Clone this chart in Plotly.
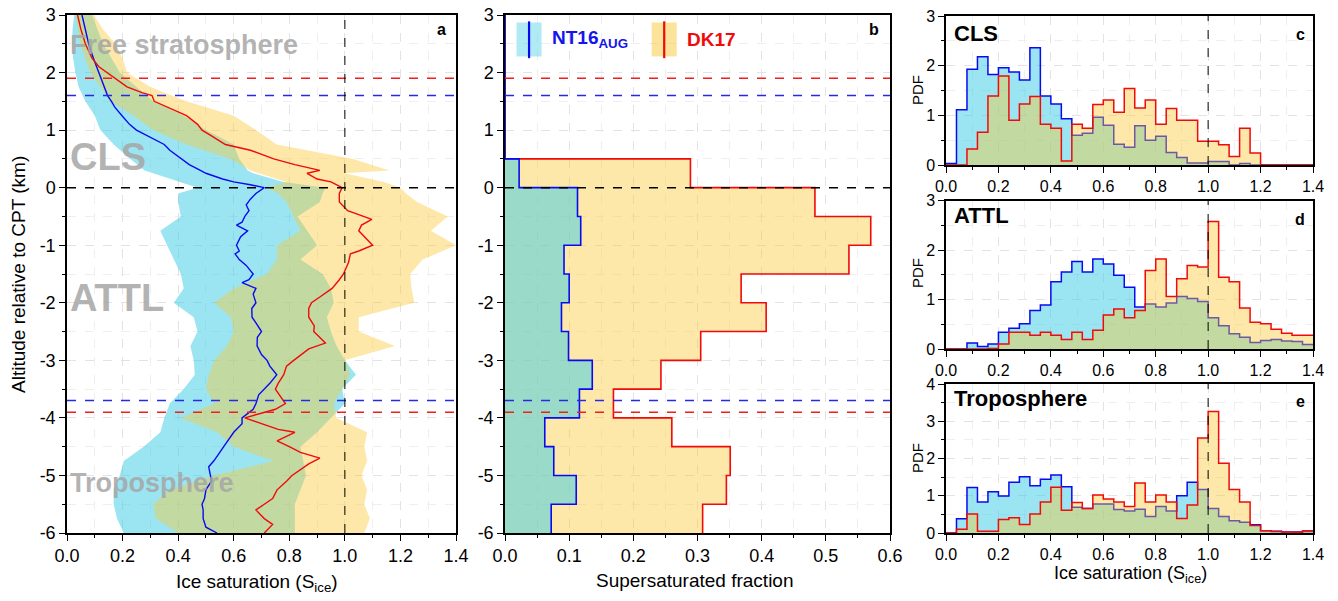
import numpy as np
import plotly.graph_objects as go

FONT = "Liberation Sans, Arial, sans-serif"

# ---------------- Panel a : mean profiles (altitude relative to CPT, km) ----------------
Z_NT16_MEAN = [3.0, 2.75, 2.5, 2.25, 2.0, 1.8, 1.6, 1.5, 1.4, 1.25, 1.1, 1.0, 0.9, 0.8, 0.75, 0.65, 0.5, 0.4,
               0.3, 0.25, 0.15, 0.1, 0.05, 0.0, -0.1, -0.2, -0.3, -0.4, -0.5, -0.6, -0.65, -0.75, -0.85, -1.0,
               -1.1, -1.15, -1.25, -1.35, -1.5, -1.6, -1.65, -1.75, -1.85, -2.0, -2.1, -2.25, -2.35, -2.5,
               -2.6, -2.75, -2.9, -3.0, -3.1, -3.25, -3.4, -3.5, -3.6, -3.75, -3.85, -4.0, -4.1, -4.25, -4.4,
               -4.5, -4.6, -4.75, -4.85, -5.0, -5.1, -5.25, -5.4, -5.5, -5.6, -5.75, -5.9, -6.0]
S_NT16_MEAN = [0.054, 0.065, 0.078, 0.095, 0.114, 0.13, 0.146, 0.16, 0.172, 0.198, 0.225, 0.25, 0.29, 0.335,
               0.35, 0.37, 0.41, 0.44, 0.48, 0.50, 0.56, 0.60, 0.66, 0.71, 0.68, 0.66, 0.645, 0.655, 0.64, 0.63,
               0.61, 0.65, 0.625, 0.61, 0.62, 0.605, 0.62, 0.645, 0.67, 0.655, 0.63, 0.68, 0.67, 0.68, 0.665,
               0.666, 0.68, 0.70, 0.685, 0.684, 0.70, 0.72, 0.73, 0.755, 0.73, 0.71, 0.69, 0.68, 0.67, 0.63,
               0.63, 0.60, 0.58, 0.564, 0.55, 0.528, 0.51, 0.516, 0.52, 0.50, 0.495, 0.486, 0.49, 0.49, 0.50, 0.54]

Z_DK17_MEAN = [3.0, 2.75, 2.5, 2.25, 2.1, 2.0, 1.9, 1.75, 1.65, 1.6, 1.5, 1.4, 1.25, 1.1, 1.0, 0.9, 0.75, 0.65,
               0.5, 0.4, 0.3, 0.25, 0.15, 0.1, 0.0, -0.1, -0.25, -0.35, -0.4, -0.55, -0.65, -0.75, -0.9, -1.0,
               -1.1, -1.15, -1.3, -1.5, -1.6, -1.75, -1.9, -2.0, -2.1, -2.25, -2.4, -2.5, -2.7, -2.8, -3.0,
               -3.1, -3.25, -3.4, -3.5, -3.65, -3.75, -3.85, -3.9, -4.0, -4.1, -4.2, -4.25, -4.4, -4.5, -4.6,
               -4.7, -4.8, -5.0, -5.1, -5.25, -5.4, -5.5, -5.6, -5.7, -5.75, -5.85, -6.0]
S_DK17_MEAN = [0.038, 0.05, 0.066, 0.09, 0.115, 0.144, 0.17, 0.216, 0.27, 0.306, 0.314, 0.36, 0.43, 0.47,
               0.486, 0.52, 0.57, 0.66, 0.744, 0.82, 0.91, 0.864, 0.90, 0.95, 0.99, 0.98, 0.98, 1.0, 1.01,
               1.097, 1.06, 1.05, 1.08, 1.10, 1.05, 1.02, 1.013, 0.995, 0.98, 0.954, 0.91, 0.88, 0.87, 0.87,
               0.89, 0.888, 0.93, 0.87, 0.816, 0.79, 0.78, 0.76, 0.75, 0.77, 0.786, 0.75, 0.71, 0.64, 0.70,
               0.76, 0.82, 0.756, 0.80, 0.84, 0.91, 0.87, 0.81, 0.79, 0.756, 0.74, 0.71, 0.68, 0.70, 0.71,
               0.74, 0.71]

# Spread bands (lower / upper) on a common altitude grid
Z_BAND = [3.0, 2.75, 2.5, 2.25, 2.0, 1.75, 1.5, 1.25, 1.0, 0.75, 0.5, 0.3, 0.25, 0.1, 0.0, -0.1, -0.25,
          -0.5, -0.75, -1.0, -1.25, -1.5, -1.75, -2.0, -2.25, -2.5, -2.75, -3.0, -3.25, -3.5, -3.75, -4.0,
          -4.25, -4.5, -4.75, -5.0, -5.25, -5.5, -5.75, -6.0]
NT16_LO = [0.026, 0.02, 0.018, 0.022, 0.03, 0.042, 0.066, 0.10, 0.12, 0.168, 0.228, 0.28, 0.31, 0.41, 0.47,
           0.40, 0.40, 0.41, 0.336, 0.36, 0.384, 0.41, 0.42, 0.384, 0.456, 0.47, 0.444, 0.456, 0.46, 0.42,
           0.37, 0.35, 0.336, 0.276, 0.204, 0.19, 0.168, 0.168, 0.18, 0.204]
NT16_HI = [0.09, 0.11, 0.13, 0.16, 0.19, 0.25, 0.31, 0.42, 0.50, 0.60, 0.62, 0.65, 0.67, 0.78, 0.93, 0.92,
           0.91, 0.83, 0.864, 0.90, 0.84, 0.92, 0.95, 0.96, 0.935, 0.95, 0.97, 1.0, 1.04, 0.99, 1.0, 0.95,
           0.90, 0.84, 0.85, 0.86, 0.84, 0.82, 0.82, 0.82]
DK17_LO = [0.03, 0.04, 0.048, 0.065, 0.084, 0.12, 0.156, 0.24, 0.31, 0.43, 0.588, 0.66, 0.69, 0.79, 0.72,
           0.76, 0.79, 0.815, 0.84, 0.756, 0.755, 0.72, 0.60, 0.53, 0.59, 0.60, 0.576, 0.53, 0.51, 0.50,
           0.53, 0.41, 0.54, 0.60, 0.744, 0.53, 0.37, 0.31, 0.32, 0.40]
DK17_HI = [0.096, 0.13, 0.174, 0.20, 0.216, 0.30, 0.43, 0.60, 0.68, 0.755, 1.03, 1.16, 1.0, 1.14, 1.2, 1.22,
           1.26, 1.37, 1.31, 1.40, 1.28, 1.235, 1.24, 1.25, 1.05, 1.05, 1.18, 1.0, 1.02, 0.99, 0.96, 0.97,
           1.08, 1.07, 1.08, 1.06, 1.08, 1.07, 1.09, 1.07]

# Reference levels (km relative to CPT)
CPT_LEVEL = 0.0
NT16_LEVELS = [1.6, -3.7]
DK17_LEVELS = [1.9, -3.9]
SAT_LINE = 1.0

# ---------------- Panel b : supersaturated fraction per 0.5 km layer ----------------
ALT_BIN_BOTTOM = [-6.0, -5.5, -5.0, -4.5, -4.0, -3.5, -3.0, -2.5, -2.0, -1.5, -1.0, -0.5, 0.0,
                  0.5, 1.0, 1.5, 2.0, 2.5]
ALT_TOP = 3.0
NT16_SSF = [0.072, 0.111, 0.076, 0.062, 0.116, 0.136, 0.099, 0.088, 0.100, 0.092, 0.118, 0.113, 0.022,
            0.0, 0.0, 0.0, 0.0, 0.0]
DK17_SSF = [0.308, 0.345, 0.351, 0.260, 0.169, 0.243, 0.305, 0.407, 0.368, 0.536, 0.570, 0.483, 0.289,
            0.0, 0.0, 0.0, 0.0, 0.0]

# altitude tick labels (plain hyphen minus as in the reference)
ALT_TICKS = [-6, -5, -4, -3, -2, -1, 0, 1, 2, 3]
ALT_TICK_TEXT = ["-6", "-5", "-4", "-3", "-2", "-1", "0", "1", "2", "3"]

# ---------------- Panels c-e : PDFs of ice saturation, bin width 0.04 ----------------
BIN_EDGES = np.round(np.arange(0, 1.4001, 0.04), 2)
CLS_NT16 = [0.03, 1.11, 1.93, 2.18, 1.82, 1.96, 1.87, 1.71, 2.36, 1.39, 1.23, 0.93, 0.60, 0.64, 0.96, 0.80,
            0.42, 0.355, 0.79, 0.50, 0.58, 0.25, 0.15, 0.04, 0.04, 0.07, 0.07, 0.0, 0.03, 0.0, 0.0, 0.0,
            0.0, 0.0, 0.0]
CLS_DK17 = [0.0, 0.0, 0.32, 0.66, 1.39, 1.79, 0.90, 1.23, 1.38, 0.82, 0.74, 0.08, 0.82, 0.74, 1.22, 1.31,
            1.06, 1.54, 1.15, 1.31, 0.82, 1.14, 0.90, 0.90, 0.48, 0.48, 0.41, 0.17, 0.74, 0.24, 0.0, 0.0,
            0.0, 0.0, 0.0]
ATTL_NT16 = [0.0, 0.0, 0.12, 0.05, 0.10, 0.34, 0.42, 0.51, 0.78, 0.89, 1.36, 1.56, 1.77, 1.56, 1.82, 1.72,
             1.49, 1.25, 0.85, 0.91, 0.85, 0.93, 1.06, 1.02, 0.96, 0.63, 0.47, 0.31, 0.24, 0.13, 0.17, 0.19,
             0.16, 0.15, 0.09]
ATTL_DK17 = [0.0, 0.0, 0.0, 0.0, 0.01, 0.10, 0.34, 0.34, 0.28, 0.34, 0.28, 0.19, 0.34, 0.19, 0.38, 0.69,
             0.81, 0.63, 0.78, 1.59, 1.82, 1.06, 1.42, 1.69, 1.66, 2.58, 1.45, 1.36, 0.83, 0.54, 0.51, 0.40,
             0.32, 0.28, 0.28]
TROP_NT16 = [0.0, 0.38, 1.22, 0.83, 1.11, 0.99, 1.36, 1.51, 1.27, 1.44, 1.56, 1.24, 0.69, 0.66, 0.78, 0.78,
             0.63, 0.59, 0.64, 0.44, 0.71, 0.59, 1.0, 1.36, 1.17, 0.66, 0.44, 0.33, 0.29, 0.22, 0.06, 0.05,
             0.03, 0.03, 0.04]
TROP_DK17 = [0.0, 0.10, 0.51, 0.05, 0.05, 0.36, 0.41, 0.23, 0.51, 0.83, 1.23, 0.61, 0.82, 0.66, 1.02, 0.91,
             0.83, 0.71, 1.34, 0.83, 1.02, 0.83, 0.39, 0.75, 2.55, 3.26, 1.87, 1.17, 0.83, 0.20, 0.06, 0.04,
             0.03, 0.02, 0.06]

# ---------------- styling ----------------
BLUE = "rgb(10,10,240)"
RED = "rgb(240,10,10)"
CYAN_FILL = "rgba(55,203,229,0.5)"
YELLOW_FILL = "rgba(250,200,53,0.42)"
GRID = "#e3e3e3"
TEXT_GREY = "rgba(165,165,165,0.85)"

# page offset compensation (the page body adds an 8px margin)
OFF = 8
W, H = 1338, 601
def PX(px):
    return (px - OFF) / W
def PY(py):
    return 1 - (py - OFF) / H

fig = go.Figure()

# Panel a bands
for lo, hi, col in [(NT16_LO, NT16_HI, CYAN_FILL), (DK17_LO, DK17_HI, YELLOW_FILL)]:
    fig.add_trace(go.Scatter(x=list(lo) + list(hi)[::-1], y=Z_BAND + Z_BAND[::-1], fill="toself",
                             fillcolor=col, line=dict(width=0), mode="lines", hoverinfo="skip",
                             showlegend=False, xaxis="x", yaxis="y"))
fig.add_trace(go.Scatter(x=S_NT16_MEAN, y=Z_NT16_MEAN, mode="lines", line=dict(color=BLUE, width=1.4),
                         showlegend=False, xaxis="x", yaxis="y"))
fig.add_trace(go.Scatter(x=S_DK17_MEAN, y=Z_DK17_MEAN, mode="lines", line=dict(color=RED, width=1.4),
                         showlegend=False, xaxis="x", yaxis="y"))

# Panel b step profiles
alt_y = ALT_BIN_BOTTOM + [ALT_TOP]
for vals, fill, col in [(DK17_SSF, YELLOW_FILL, RED), (NT16_SSF, CYAN_FILL, BLUE)]:
    xs = list(vals) + [vals[-1]]
    fig.add_trace(go.Scatter(x=xs, y=alt_y, mode="lines", line=dict(color=col, width=1.6, shape="vh"),
                             fill="tozerox", fillcolor=fill, showlegend=False, xaxis="x2", yaxis="y2"))

# Panels c-e histograms
hist_sets = [(CLS_NT16, CLS_DK17, "x3", "y3"), (ATTL_NT16, ATTL_DK17, "x4", "y4"),
             (TROP_NT16, TROP_DK17, "x5", "y5")]
for nt, dk, xa, ya in hist_sets:
    for vals, fill, col in [(nt, CYAN_FILL, BLUE), (dk, YELLOW_FILL, RED)]:
        ys = list(vals) + [vals[-1]]
        fig.add_trace(go.Scatter(x=list(BIN_EDGES), y=ys, mode="lines",
                                 line=dict(color=col, width=1.5, shape="hv"),
                                 fill="tozeroy", fillcolor=fill, showlegend=False, xaxis=xa, yaxis=ya))

# ---------------- axes ----------------
def axis(domain, rng, dtick, minor_dtick, anchor, tickfmt=None, size=18, alt=False):
    d = dict(domain=domain, range=rng, dtick=dtick, tick0=0, anchor=anchor,
             showline=True, linecolor="black", linewidth=1.5, mirror=True,
             ticks="outside", ticklen=6, tickwidth=1.3, tickcolor="black",
             showgrid=True, gridcolor=GRID, griddash="dash", gridwidth=1, zeroline=False,
             automargin=False, ticklabeloverflow="allow",
             tickfont=dict(family=FONT, size=size, color="black"),
             minor=dict(dtick=minor_dtick, ticks="outside", ticklen=3, tickwidth=1.2, tickcolor="black",
                        showgrid=True, gridcolor="#efefef", griddash="dash"))
    if tickfmt:
        d["tickformat"] = tickfmt
    if alt:
        d["tickmode"] = "array"
        d["tickvals"] = ALT_TICKS
        d["ticktext"] = ALT_TICK_TEXT
    return d

AB_Y = [PY(533), PY(15)]
AX = [PX(67), PX(456)]
BX = [PX(505), PX(890)]
RX = [PX(946), PX(1313)]
fig.update_layout(
    width=W, height=H, margin=dict(l=0, r=0, t=0, b=0),
    paper_bgcolor="white", plot_bgcolor="white", showlegend=False,
    font=dict(family=FONT, color="black"),
    xaxis=axis(AX, [0, 1.4], 0.2, 0.1, "y", ".1f"),
    yaxis=axis(AB_Y, [-6, 3], 1, 0.5, "x", alt=True),
    xaxis2=axis(BX, [0, 0.6], 0.1, 0.05, "y2", ".1f"),
    yaxis2=axis(AB_Y, [-6, 3], 1, 0.5, "x2", alt=True),
    xaxis3=axis(RX, [0, 1.4], 0.2, 0.1, "y3", ".1f", 16),
    yaxis3=axis([PY(165), PY(16)], [0, 3], 1, 0.5, "x3", None, 16),
    xaxis4=axis(RX, [0, 1.4], 0.2, 0.1, "y4", ".1f", 16),
    yaxis4=axis([PY(349), PY(200.7)], [0, 3], 1, 0.5, "x4", None, 16),
    xaxis5=axis(RX, [0, 1.4], 0.2, 0.1, "y5", ".1f", 16),
    yaxis5=axis([PY(533), PY(384)], [0, 4], 1, 0.5, "x5", None, 16),
)

# ---------------- reference lines ----------------
shapes = []
for xr, yr in [("x", "y"), ("x2", "y2")]:
    xd = xr + " domain"
    shapes.append(dict(type="line", xref=xd, yref=yr, x0=0, x1=1, y0=CPT_LEVEL, y1=CPT_LEVEL,
                       line=dict(color="black", width=1.5, dash="dash"), layer="above"))
    for lv in NT16_LEVELS:
        shapes.append(dict(type="line", xref=xd, yref=yr, x0=0, x1=1, y0=lv, y1=lv,
                           line=dict(color="rgb(40,40,230)", width=1.5, dash="dash"), layer="above"))
    for lv in DK17_LEVELS:
        shapes.append(dict(type="line", xref=xd, yref=yr, x0=0, x1=1, y0=lv, y1=lv,
                           line=dict(color="rgb(240,30,30)", width=1.5, dash="dash"), layer="above"))
for xr, yr in [("x", "y"), ("x3", "y3"), ("x4", "y4"), ("x5", "y5")]:
    shapes.append(dict(type="line", xref=xr, yref=yr + " domain", x0=SAT_LINE, x1=SAT_LINE, y0=0, y1=1,
                       line=dict(color="black", width=1, dash="dash"), layer="above"))

# legend patches in panel b
shapes.append(dict(type="rect", xref="x2", yref="y2", x0=0.018, x1=0.057, y0=2.28, y1=2.87,
                   fillcolor="rgba(55,203,229,0.4)", line=dict(width=0), layer="above"))
shapes.append(dict(type="line", xref="x2", yref="y2", x0=0.0375, x1=0.0375, y0=2.25, y1=2.89,
                   line=dict(color=BLUE, width=2.2), layer="above"))
shapes.append(dict(type="rect", xref="x2", yref="y2", x0=0.2286, x1=0.2676, y0=2.28, y1=2.87,
                   fillcolor="rgba(250,200,53,0.5)", line=dict(width=0), layer="above"))
shapes.append(dict(type="line", xref="x2", yref="y2", x0=0.2481, x1=0.2481, y0=2.25, y1=2.89,
                   line=dict(color=RED, width=2.2), layer="above"))
fig.update_layout(shapes=shapes)

# ---------------- annotations ----------------
ann = []
def A(**kw):
    base = dict(showarrow=False, font=dict(family=FONT, size=17, color="black"))
    base.update(kw)
    ann.append(base)

# region labels panel a
A(x=0.005, y=2.48, xref="x", yref="y", text="<b>Free stratosphere</b>", xanchor="left", yanchor="middle",
  font=dict(family=FONT, size=27, color=TEXT_GREY))
A(x=0.005, y=0.53, xref="x", yref="y", text="<b>CLS</b>", xanchor="left", yanchor="middle",
  font=dict(family=FONT, size=38, color=TEXT_GREY))
A(x=0.005, y=-1.92, xref="x", yref="y", text="<b>ATTL</b>", xanchor="left", yanchor="middle",
  font=dict(family=FONT, size=38, color=TEXT_GREY))
A(x=0.005, y=-5.13, xref="x", yref="y", text="<b>Troposphere</b>", xanchor="left", yanchor="middle",
  font=dict(family=FONT, size=27, color=TEXT_GREY))

# panel letters
for letter, xr, yr, xx, yy in [("a", "x", "y", 0.979, 0.993), ("b", "x2", "y2", 0.977, 0.993),
                               ("c", "x3", "y3", 0.984, 0.945), ("d", "x4", "y4", 0.984, 0.945),
                               ("e", "x5", "y5", 0.984, 0.95)]:
    A(x=xx, y=yy, xref=xr + " domain", yref=yr + " domain", text="<b>%s</b>" % letter,
      xanchor="right", yanchor="top", font=dict(family=FONT, size=16, color="black"))

# region titles panels c-e
for txt, xr, yr, yy in [("CLS", "x3", "y3", 0.884), ("ATTL", "x4", "y4", 0.897),
                        ("Troposphere", "x5", "y5", 0.9)]:
    A(x=0.0155, y=yy, xref=xr + " domain", yref=yr + " domain", text="<b>%s</b>" % txt,
      xanchor="left", yanchor="middle", font=dict(family=FONT, size=22, color="black"))

# legend text
A(x=0.070, y=2.58, xref="x2", yref="y2", text="<b>NT16<sub>AUG</sub></b>", xanchor="left", yanchor="middle",
  font=dict(family=FONT, size=19, color="rgb(20,20,235)"))
A(x=0.2805, y=2.58, xref="x2", yref="y2", text="<b>DK17</b>", xanchor="left", yanchor="middle",
  font=dict(family=FONT, size=19, color="rgb(240,10,10)"))

# axis titles
A(x=PX(257), y=PY(583), xref="paper", yref="paper", text="Ice saturation (S<sub>ice</sub>)",
  xanchor="center", yanchor="middle", font=dict(family=FONT, size=19, color="black"))
A(x=PX(695), y=PY(580), xref="paper", yref="paper", text="Supersaturated fraction",
  xanchor="center", yanchor="middle", font=dict(family=FONT, size=19, color="black"))
A(x=PX(18), y=PY(275), xref="paper", yref="paper", text="Altitude relative to CPT (km)",
  textangle=-90, xanchor="center", yanchor="middle", font=dict(family=FONT, size=19, color="black"))
A(x=PX(1130), y=PY(574), xref="paper", yref="paper", text="Ice saturation (S<sub>ice</sub>)",
  xanchor="center", yanchor="middle", font=dict(family=FONT, size=18, color="black"))
for yc in [90, 273, 458]:
    A(x=PX(917), y=PY(yc), xref="paper", yref="paper", text="PDF", textangle=-90,
      xanchor="center", yanchor="middle", font=dict(family=FONT, size=15, color="black"))

fig.update_layout(annotations=ann)
fig.write_html("out.html")
